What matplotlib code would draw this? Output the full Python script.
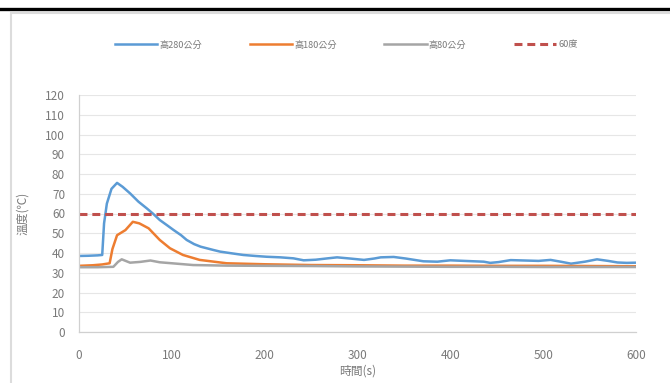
import matplotlib
matplotlib.use("Agg")
import matplotlib.pyplot as plt
from matplotlib.lines import Line2D
from matplotlib.patches import Rectangle

plt.rcParams['font.family'] = ['Noto Sans CJK TC', 'DejaVu Sans']

# Temperature readings (°C) over time (s) at three heights
t_280 = [0, 10, 20, 25, 27, 30, 35, 41, 47, 55, 64, 73, 80, 87, 95, 102, 110, 116, 124, 131,
         145, 152, 165, 177, 190, 202, 217, 231, 242, 255, 268, 278, 292, 307, 318, 325, 339,
         352, 371, 386, 400, 415, 436, 443, 452, 465, 480, 495, 508, 520, 530, 545, 558, 570,
         580, 590, 600]
v_280 = [38.5, 38.6, 38.8, 39.0, 55.0, 65.0, 72.5, 75.5, 73.5, 70.2, 66.0, 62.6, 59.8, 56.7,
         54.0, 51.6, 49.0, 46.6, 44.5, 43.2, 41.5, 40.7, 39.8, 39.0, 38.5, 38.1, 37.8, 37.3,
         36.3, 36.6, 37.3, 37.8, 37.2, 36.5, 37.2, 37.8, 38.0, 37.2, 35.8, 35.6, 36.3, 36.0,
         35.6, 35.0, 35.4, 36.4, 36.2, 36.0, 36.5, 35.5, 34.6, 35.6, 36.8, 36.0, 35.2, 35.0,
         35.1]

t_180 = [0, 15, 25, 33, 36, 41, 50, 58, 65, 75, 87, 98, 112, 130, 159, 200, 250, 300, 350,
         400, 450, 500, 550, 600]
v_180 = [33.5, 33.8, 34.2, 34.8, 42.0, 49.0, 51.6, 55.8, 55.0, 52.5, 46.6, 42.4, 39.0, 36.5,
         34.8, 34.3, 33.9, 33.8, 33.6, 33.6, 33.5, 33.5, 33.4, 33.3]

t_80 = [0, 20, 37, 42, 46, 55, 66, 77, 87, 100, 123, 160, 200, 250, 300, 350, 400, 450, 500,
        550, 600]
v_80 = [32.8, 32.8, 33.0, 35.5, 36.8, 35.1, 35.5, 36.2, 35.3, 34.8, 33.9, 33.6, 33.5, 33.4,
        33.2, 33.1, 33.0, 33.0, 32.9, 32.9, 32.9]

threshold = 60
series_labels = ['高280公分', '高180公分', '高80公分', '60度']
x_ticks = [0, 100, 200, 300, 400, 500, 600]
y_ticks = list(range(0, 121, 10))

text_color = '#7a7a7a'
c_blue, c_orange, c_gray, c_red = '#5B9BD5', '#ED7D31', '#A5A5A5', '#C0504D'

fig = plt.figure(figsize=(6.7, 3.83), dpi=100)

# frame of the chart object and the heavy rule above it
fig.add_artist(Rectangle((10.5 / 670, -0.05), 1.0, (383 - 13) / 383 + 0.05,
                         transform=fig.transFigure, fill=False,
                         edgecolor='#dcdcdc', linewidth=1.5))
fig.add_artist(Line2D([0, 1], [1 - 9 / 383, 1 - 9 / 383], transform=fig.transFigure,
                      color='black', linewidth=2.4))

ax = fig.add_axes([79 / 670, 51 / 383, (636 - 79) / 670, (332 - 95) / 383])

lw = 1.8
ax.plot(t_280, v_280, color=c_blue, lw=lw, label=series_labels[0])
ax.plot(t_180, v_180, color=c_orange, lw=lw, label=series_labels[1])
ax.plot(t_80, v_80, color=c_gray, lw=lw, label=series_labels[2])
ax.plot([0, 600], [threshold, threshold], color=c_red, lw=2.2, ls=(0, (2.6, 1.6)),
        label=series_labels[3])

ax.set_xlim(0, 600)
ax.set_ylim(0, 120)
ax.set_xticks(x_ticks)
ax.set_yticks(y_ticks)
ax.grid(axis='y', color='#e6e6e6', linewidth=0.8)
ax.set_axisbelow(True)
for s in ['top', 'right']:
    ax.spines[s].set_visible(False)
for s in ['left', 'bottom']:
    ax.spines[s].set_color('#d0d0d0')
    ax.spines[s].set_linewidth(0.9)
ax.tick_params(length=0, labelsize=8.5, labelcolor=text_color)
ax.tick_params(axis='x', pad=12)
ax.tick_params(axis='y', pad=10)
ax.set_xlabel('時間(s)', fontsize=8.5, color=text_color, labelpad=2)
ax.set_ylabel('溫度(℃)', fontsize=8.5, color=text_color, labelpad=12)

fig.legend(loc='center', bbox_to_anchor=(0.517, 1 - 45 / 383), ncol=4, frameon=False,
           fontsize=6.6, labelcolor=text_color, handlelength=4.6, handletextpad=0.25,
           columnspacing=5.2)

fig.savefig('out.png', dpi=100, facecolor='white')
